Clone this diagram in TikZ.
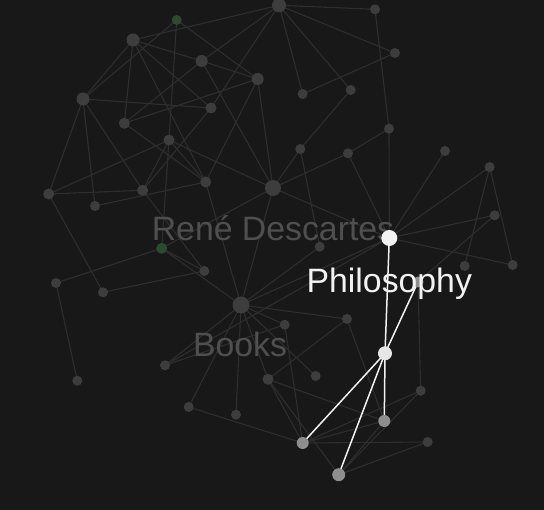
\documentclass[tikz,border=0pt]{standalone}
\usepackage{fontspec}
\setmainfont{Liberation Sans}
\definecolor{bgc}{HTML}{181818}
\definecolor{fnodec}{HTML}{3D3D3D}
\definecolor{fedgec}{HTML}{2E2E2E}
\definecolor{greenc}{HTML}{2B4A2F}
\definecolor{hlc}{HTML}{8E8E8E}
\definecolor{whitec}{HTML}{F2F2F2}
\definecolor{hoverc}{HTML}{E6E6E6}
\definecolor{labelc}{HTML}{4F4F4F}
\pgfdeclarelayer{back}
\pgfdeclarelayer{bg}
\pgfdeclarelayer{glab}
\pgfsetlayers{back,bg,glab,main}
\tikzset{
  gnode/.style={circle, inner sep=0pt, draw=none},
  fnode/.style={gnode, fill=fnodec},
  grnode/.style={gnode, fill=greenc},
  hlnode/.style={gnode, fill=hlc},
  wnode/.style={gnode, fill=whitec},
  hvnode/.style={gnode, fill=hoverc},
  fedge/.style={draw=fedgec, line width=1.1pt},
  hedge/.style={draw=whitec, line width=1.5pt},
  glabel/.style={anchor=base, inner sep=0pt, text=labelc, font=\fontsize{33.8}{40}\selectfont},
  wlabel/.style={anchor=base, inner sep=0pt, text=whitec, font=\fontsize{33.8}{40}\selectfont}
}
\begin{document}
\begin{tikzpicture}[x=1pt,y=1pt]
\begin{pgfonlayer}{back}
\fill[bgc] (0,0) rectangle (544,-510);
\end{pgfonlayer}
\useasboundingbox (0,0) rectangle (544,-510);
% faint nodes
\foreach \i/\x/\y/\d in {
 2/133/40/13, 3/201.7/61/12, 4/257.7/79/12, 5/83/99/13, 6/211/108/11,
 7/124.3/123.3/11, 8/169/140/11, 9/279/5.3/14, 10/375/9.3/10, 11/395/53/10,
 12/302.7/94/10, 13/350.7/90/10, 14/389/128.7/10, 15/300.3/149/10, 16/348/153.3/10,
 17/445/151/10, 18/489.7/167/10, 19/48.7/194/11, 20/95/206/10, 21/142.7/190.3/11,
 22/205.7/182/11, 23/273/188/16, 25/204.3/271/10, 26/56/283/10, 27/103/292.3/10,
 28/241/305/17, 30/319.7/246.7/10, 31/494.7/215.3/10, 32/464.7/266/10, 33/512.7/265/10,
 34/284.7/324.7/10, 35/347/319/10, 37/77.3/380.7/10, 38/165/365.3/10, 39/188.7/407/10,
 40/236/414.7/10, 41/268/379.3/11, 43/315.7/376/10, 44/420.7/390.7/10, 47/427.7/442/10}
 \node[fnode, minimum size=\d pt] (n\i) at (\x,-\y) {};
% green nodes
\node[grnode, minimum size=10pt] (n1) at (176.7,-20) {};
\node[grnode, minimum size=11pt] (n24) at (161.7,-248.3) {};
% highlighted neighbours
\foreach \i/\x/\y/\d in {36/418/282/11, 45/384.3/421/12, 46/302.7/443/12, 48/338.7/474.7/13}
 \node[hlnode, minimum size=\d pt] (n\i) at (\x,-\y) {};
\node[wnode, minimum size=16pt] (n29) at (389.3,-238) {};
\node[hvnode, minimum size=14pt] (n42) at (385,-353.3) {};
% faint edges
\begin{pgfonlayer}{bg}
\foreach \a/\b in {1/4,1/5,1/8,2/9,2/5,2/7,2/3,2/6,2/22,3/4,3/7,3/9,3/23,4/22,4/23,4/7,
 6/9,5/6,5/19,5/20,5/21,8/21,19/21,20/22,6/21,8/24,21/25,24/25,24/26,24/28,25/27,26/37,
 19/27,22/28,23/28,28/35,28/34,28/41,28/40,28/38,28/39,28/43,28/29,28/30,23/24,23/15,
 23/16,23/29,8/22,8/23,9/10,9/11,9/12,9/13,11/12,13/15,15/30,16/14,16/29,14/10,14/29,
 17/29,18/29,29/31,29/33,18/32,18/33,31/36,36/44,29/38,34/38,34/46,35/41,35/45,41/46,
 41/45,41/48,46/44,46/45,46/47,39/46,48/44,48/47,48/45,19/8,7/22}
 \draw[fedge] (n\a.center) -- (n\b.center);
% highlighted edges
\foreach \b in {29,36,45,46,48}
 \draw[hedge] (n42.center) -- (n\b.center);
\end{pgfonlayer}
% labels of faded nodes, under the nodes
\begin{pgfonlayer}{glab}
\node[glabel] (l23) at (273,-240.7) {René Descartes};
\node[glabel] (l28) at (240,-357) {Books};
\end{pgfonlayer}
\node[wlabel] (l29) at (389.3,-292.5) {Philosophy};
\end{tikzpicture}
\end{document}
